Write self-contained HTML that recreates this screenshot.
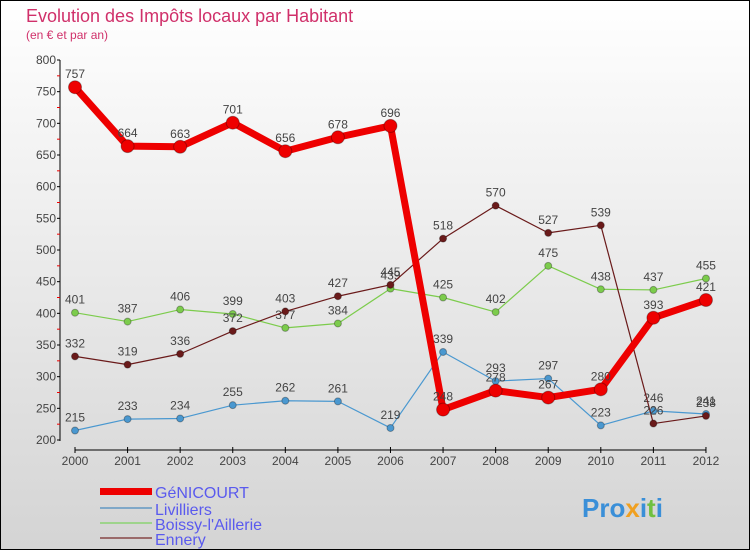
<!DOCTYPE html>
<html><head><meta charset="utf-8"><style>
body{margin:0;width:750px;height:550px;overflow:hidden;font-family:"Liberation Sans",sans-serif}
</style></head><body>
<svg width="750" height="550" xmlns="http://www.w3.org/2000/svg">
<defs><linearGradient id="bg" x1="0" y1="0" x2="0" y2="1"><stop offset="0" stop-color="#ffffff"/><stop offset="1" stop-color="#d4d4d4"/></linearGradient></defs>
<rect x="0.5" y="0.5" width="749" height="549" fill="url(#bg)" stroke="#000"/>
<text x="26" y="22" font-size="18" fill="#d0306a">Evolution des Impôts locaux par Habitant</text>
<text x="26" y="39" font-size="12" fill="#d0306a">(en € et par an)</text>
<g id="axes"></g><g id="series"></g>
<g>
<rect x="100" y="488" width="52" height="7" fill="#e00"/>
<line x1="100" y1="508" x2="152" y2="508" stroke="#7fa8c8" stroke-width="2"/>
<line x1="100" y1="523" x2="152" y2="523" stroke="#9ed48c" stroke-width="2"/>
<line x1="100" y1="538" x2="152" y2="538" stroke="#9a6a6a" stroke-width="2"/>
<text x="155" y="498" font-size="16" fill="#5a5aee">GéNICOURT</text>
<text x="155" y="515" font-size="16" fill="#5a5aee">Livilliers</text>
<text x="155" y="530" font-size="16" fill="#5a5aee">Boissy-l'Aillerie</text>
<text x="155" y="545" font-size="16" fill="#5a5aee">Ennery</text>
</g>
<text x="582" y="517" font-size="26" font-weight="bold" fill="#3a8fd8">Pro<tspan fill="#f0a020">x</tspan>i<tspan fill="#70c040">t</tspan>i</text>
</svg>
<script>
const years=[2000,2001,2002,2003,2004,2005,2006,2007,2008,2009,2010,2011,2012];
const yTicks=[200,250,300,350,400,450,500,550,600,650,700,750,800];
const genicourt=[757,664,663,701,656,678,696,248,278,267,280,393,421];
const livilliers=[215,233,234,255,262,261,219,339,293,297,223,246,241];
const boissy=[401,387,406,399,377,384,439,425,402,475,438,437,455];
const ennery=[332,319,336,372,403,427,445,518,570,527,539,226,238];
const NS="http://www.w3.org/2000/svg";
const X=i=>75+i*52.58, Y=v=>440-(v-200)*380/600;
function mk(t,a,p){const e=document.createElementNS(NS,t);for(const k in a)e.setAttribute(k,a[k]);p.appendChild(e);return e;}
const ax=document.getElementById('axes');
let l=mk('line',{x1:60,y1:60,x2:60,y2:441,stroke:'#000'},ax);

yTicks.forEach((v,i)=>{mk('line',{x1:57,y1:Y(v),x2:60,y2:Y(v),stroke:'#000'},ax);
 if(i<yTicks.length-1)mk('line',{x1:57,y1:Y(v+25),x2:60,y2:Y(v+25),stroke:'#e00'},ax);
 const t=mk('text',{x:56,y:Y(v)+4,'font-size':12,fill:'#444','text-anchor':'end'},ax);t.textContent=v;
 });
l=mk('line',{x1:X(0),y1:450,x2:X(12),y2:450,stroke:'#000'},ax);

years.forEach((y,i)=>{mk('line',{x1:X(i),y1:447,x2:X(i),y2:453,stroke:'#000'},ax);
 const t=mk('text',{x:X(i),y:465,'font-size':12,fill:'#444','text-anchor':'middle'},ax);t.textContent=y;
 });
const sg=document.getElementById('series');
function draw(vals,name,col,w,r){const g=mk('g',{},sg);
 
 const p=mk('polyline',{points:vals.map((v,i)=>X(i)+','+Y(v)).join(' '),fill:'none',stroke:col,'stroke-width':w,'stroke-linejoin':'round'},g);
 
 vals.forEach((v,i)=>{const c=mk('circle',{cx:X(i),cy:Y(v),r:r,fill:col,stroke:'rgba(0,0,0,0.3)'},g);
  
  const t=mk('text',{x:X(i),y:Y(v)-9,'font-size':12,fill:'#444','text-anchor':'middle'},g);t.textContent=v;
  });}
draw(livilliers,'livilliers','#4a98d0',1.2,3.5);
draw(boissy,'boissy','#7ccc4c',1.2,3.5);
draw(ennery,'ennery','#6a1a1a',1.2,3.5);
draw(genicourt,'genicourt','#ee0000',7,6.5);
</script>
</body></html>
